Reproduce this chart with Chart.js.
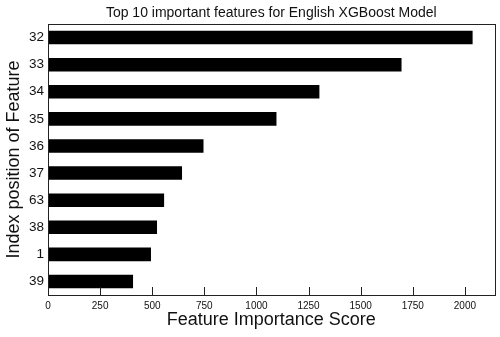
<!DOCTYPE html>
<html>
<head>
<meta charset="utf-8">
<script src="https://cdn.jsdelivr.net/npm/chart.js@4.4.1/dist/chart.umd.min.js"></script>
<style>
html,body{margin:0;padding:0;background:#fff;}
#wrap{width:500px;height:337px;}
</style>
</head>
<body>
<div id="wrap"><canvas id="c" width="500" height="337"></canvas></div>
<script>
const categories = ["32","33","34","35","36","37","63","38","1","39"];
const scores = [2037, 1696, 1302, 1096, 746, 643, 557, 523, 494, 408];
const xTickValues = [0,250,500,750,1000,1250,1500,1750,2000];
const xMax = 2142;
const chartTitle = 'Top 10 important features for English XGBoost Model';

const FONT = "'Liberation Sans', Arial, sans-serif";

const frame = {
  id: 'frame',
  afterDatasetsDraw(chart) {
    const {ctx, chartArea:a, scales} = chart;
    ctx.save();
    ctx.strokeStyle = '#222';
    ctx.lineWidth = 1;
    ctx.beginPath();
    xTickValues.forEach(v => {
      const x = Math.round(scales.x.getPixelForValue(v)) + 0.5;
      ctx.moveTo(x, a.bottom);
      ctx.lineTo(x, a.bottom - 8);
    });
    ctx.stroke();
    ctx.strokeRect(Math.round(a.left)+0.5, Math.round(a.top)+0.5, Math.round(a.right-a.left), Math.round(a.bottom-a.top));
    ctx.fillStyle = '#111';
    ctx.font = '14px ' + FONT;
    ctx.textAlign = 'center';
    ctx.textBaseline = 'middle';
    ctx.fillText(chartTitle, (a.left + a.right) / 2, 13);
    ctx.restore();
  }
};

new Chart(document.getElementById('c'), {
  type: 'bar',
  data: {
    labels: categories,
    datasets: [{
      data: scores,
      backgroundColor: '#000',
      borderWidth: 0,
      barPercentage: 0.5,
      categoryPercentage: 1.0
    }]
  },
  options: {
    indexAxis: 'y',
    responsive: false,
    animation: false,
    events: [],
    layout: { padding: { left: 0, right: 5.5, top: 24, bottom: 0 } },
    plugins: {
      legend: { display: false },
      tooltip: { enabled: false },
      title: { display: false }
    },
    scales: {
      x: {
        type: 'linear',
        min: 0,
        max: xMax,
        afterBuildTicks(scale) {
          scale.ticks = xTickValues.map(v => ({ value: v }));
        },
        afterFit(scale) { scale.height = 42; },
        grid: { display: false, drawTicks: false },
        border: { display: false },
        ticks: {
          color: '#111',
          font: { family: FONT, size: 10 },
          padding: 5,
          maxRotation: 0,
          autoSkip: false,
          callback: (v) => String(v)
        },
        title: {
          display: true,
          text: 'Feature Importance Score',
          color: '#111',
          font: { family: FONT, size: 18 },
          padding: { top: 0, bottom: 6 }
        }
      },
      y: {
        type: 'category',
        offset: true,
        afterFit(scale) { scale.width = 48; },
        grid: { display: false, drawTicks: false },
        border: { display: false },
        ticks: {
          color: '#111',
          font: { family: FONT, size: 13.5 },
          padding: 4
        },
        title: {
          display: true,
          text: 'Index position of Feature',
          color: '#111',
          font: { family: FONT, size: 18 },
          padding: { top: 3, bottom: 0 }
        }
      }
    }
  },
  plugins: [frame]
});
</script>
</body>
</html>
